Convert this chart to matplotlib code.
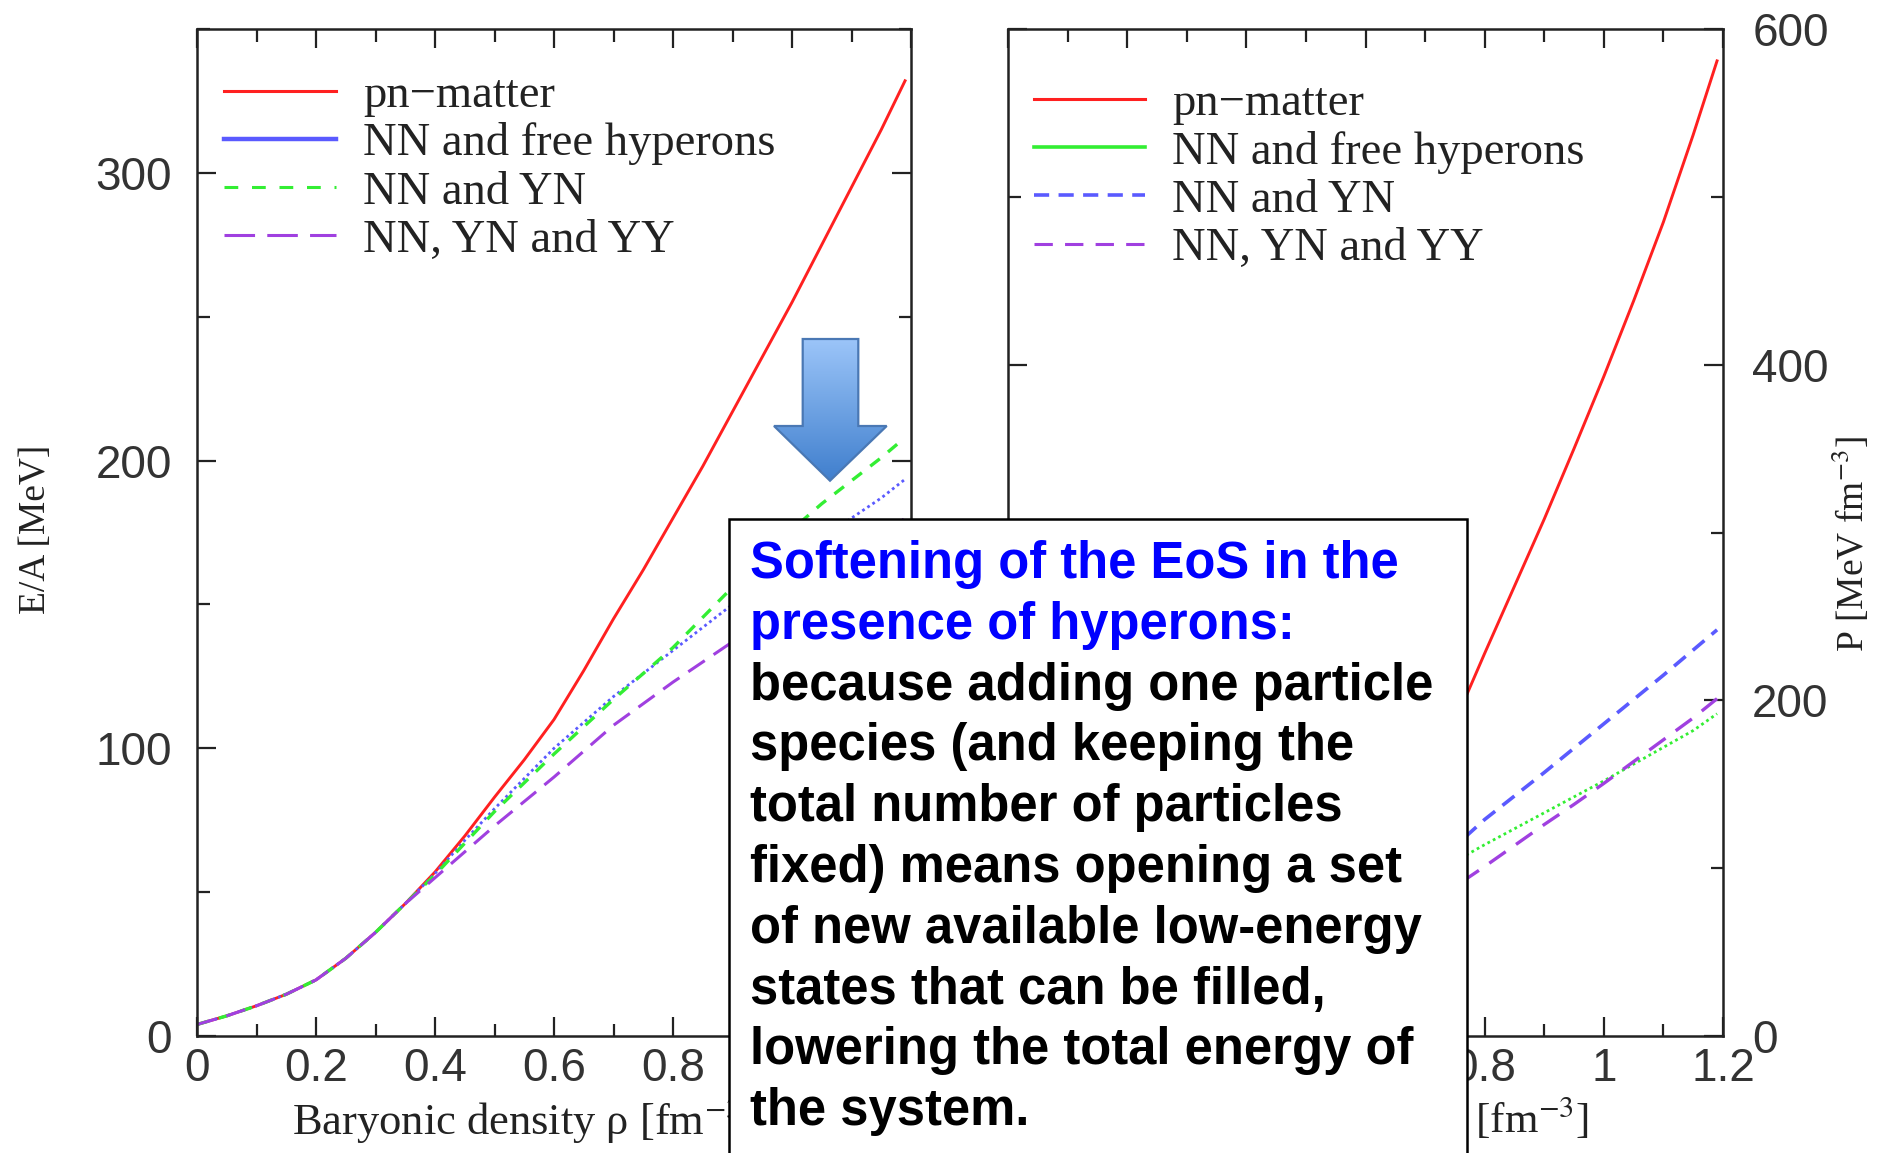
import numpy as np
import matplotlib
matplotlib.use("Agg")
import matplotlib.pyplot as plt
from matplotlib.lines import Line2D
from matplotlib.patches import Rectangle, Polygon
from matplotlib.ticker import MultipleLocator

plt.rcParams['mathtext.fontset'] = 'stix'

# energy per baryon, E/A [MeV]
rho_ea = [0, 0.05, 0.1, 0.15, 0.2, 0.25, 0.3, 0.35, 0.4, 0.45, 0.5, 0.55, 0.6, 0.65,
          0.7, 0.75, 0.8, 0.85, 0.9, 0.95, 1.0, 1.05, 1.1, 1.15, 1.19]
ea_pn = [4, 7, 10.5, 14.5, 19.5, 27, 36, 46, 57, 69.5, 83, 96, 110, 127,
         145, 162, 180, 198, 217, 236, 255, 275, 295, 315, 332]
ea_free = [4, 7, 10.5, 14.5, 19.5, 27, 36, 46, 56.5, 68, 79, 89.5, 100, 109,
           118, 126, 134, 142, 150, 157.5, 165, 172.5, 180, 187, 193.5]
ea_yn = [4, 7, 10.5, 14.5, 19.5, 27, 36, 46, 56, 67, 78, 88, 98, 107.5,
         117, 126, 135, 145.5, 156, 166, 176, 185, 193, 201, 208]
ea_yy = [4, 7, 10.5, 14.5, 19.5, 27, 36, 46, 55, 64, 73, 81.5, 90, 99,
         108, 115.5, 123, 130, 137, 144.5, 152, 159, 166, 173, 180]

# pressure, P [MeV fm^-3]
rho_p = [0, 0.1, 0.2, 0.3, 0.4, 0.5, 0.6, 0.7, 0.75, 0.8, 0.85, 0.9, 0.95,
         1.0, 1.05, 1.1, 1.15, 1.19]
p_pn = [0, 1, 4, 12, 28, 55, 95, 150, 187, 228, 268, 308, 350,
        393, 438, 485, 537, 581]
p_free = [0, 0.5, 3, 10, 22, 40, 62, 94, 104, 114, 123.5, 133, 142.5,
          152, 162, 172, 182, 192]
p_yn = [0, 0.5, 3, 10, 23, 42, 68, 97, 113, 129, 143, 157, 171.5,
        186, 200.5, 215, 230, 242]
p_yy = [0, 0.5, 3, 9, 20, 36, 56, 78, 89, 101, 113.5, 126, 138,
        150.5, 163.5, 176.5, 189.5, 201]

labels = ["pn\u2212matter", "NN and free hyperons", "NN and YN", "NN, YN and YY"]
xticks = [0, 0.2, 0.4, 0.6, 0.8, 1.0, 1.2]
# tick labels that sit under the text box are left blank
xtick_left = ['0', '0.2', '0.4', '0.6', '0.8', '', '']
xtick_right = ['', '', '', '', '0.8', '1', '1.2']

RED = '#ff2020'
BLUE = '#5a5aff'
GREEN = '#33ee33'
PURPLE = '#a040e0'

W, H = 1897, 1153
fig = plt.figure(figsize=(W / 100, H / 100), dpi=100)

SANS = 'Liberation Sans'
SERIF = 'Liberation Serif'
TICKCOL = '#333333'
LABCOL = '#222222'


def style_axes(ax, ticklabels):
    for s in ax.spines.values():
        s.set_linewidth(1.8)
        s.set_color('#222222')
    ax.set_xlim(0, 1.2)
    ax.set_xticks(xticks)
    ax.set_xticklabels(ticklabels)
    ax.xaxis.set_minor_locator(MultipleLocator(0.1))
    ax.tick_params(which='both', direction='in', top=True, right=True,
                   width=1.6, color='#222222')
    ax.tick_params(which='major', length=14)
    ax.tick_params(which='minor', length=9)
    ax.tick_params(axis='x', labelsize=33, pad=8, labelcolor=TICKCOL)


# left panel: E/A
ax1 = fig.add_axes([197 / W, 1 - 1036 / H, 714 / W, 1007 / H])
ax1.plot(rho_ea, ea_pn, color=RED, lw=2.1)
ax1.plot(rho_ea, ea_free, color=BLUE, lw=2.0, ls=(0, (1, 1.2)))
ax1.plot(rho_ea, ea_yn, color=GREEN, lw=2.4, ls=(0, (3.6, 3.2)))
ax1.plot(rho_ea, ea_yy, color=PURPLE, lw=2.2, ls=(0, (6.5, 3.5)))
ax1.set_ylim(0, 350)
ax1.yaxis.set_major_locator(MultipleLocator(100))
ax1.yaxis.set_minor_locator(MultipleLocator(50))
style_axes(ax1, xtick_left)
ax1.tick_params(axis='y', labelsize=33, pad=18, labelcolor=TICKCOL)
for t in ax1.get_xticklabels() + ax1.get_yticklabels():
    t.set_fontfamily(SANS)
ax1.text(-0.2255, 0.5035, 'E/A [MeV]', rotation=90, ha='center', va='center',
         transform=ax1.transAxes, fontsize=27, family=SERIF, color=LABCOL)
ax1.text(0.459, -0.083, 'Baryonic density \u03c1 [fm$^{-3}$]', ha='center', va='center',
         transform=ax1.transAxes, fontsize=32, family=SERIF, color=LABCOL)

h_left = [Line2D([], [], color=RED, lw=2.2),
          Line2D([], [], color=BLUE, lw=3.2),
          Line2D([], [], color=GREEN, lw=2.2, ls=(0, (4.5, 4.5))),
          Line2D([], [], color=PURPLE, lw=2.2, ls=(0, (10, 4)))]
leg1 = ax1.legend(h_left, labels, loc='upper left', bbox_to_anchor=(0.038, 0.955),
                  frameon=False, borderpad=0, borderaxespad=0, labelspacing=0.12,
                  handlelength=2.4, handletextpad=0.58,
                  prop={'family': SERIF, 'size': 33.5})
for t in leg1.get_texts():
    t.set_color(LABCOL)

# right panel: pressure
ax2 = fig.add_axes([1008 / W, 1 - 1036 / H, 715 / W, 1007 / H])
ax2.plot(rho_p, p_pn, color=RED, lw=2.1)
ax2.plot(rho_p, p_free, color=GREEN, lw=2.0, ls=(0, (1, 1.2)))
ax2.plot(rho_p, p_yn, color=BLUE, lw=2.6, ls=(0, (4.2, 2.6)))
ax2.plot(rho_p, p_yy, color=PURPLE, lw=2.4, ls=(0, (6, 3.8)))
ax2.set_ylim(0, 600)
ax2.yaxis.set_major_locator(MultipleLocator(200))
ax2.yaxis.set_minor_locator(MultipleLocator(100))
style_axes(ax2, xtick_right)
ax2.tick_params(axis='y', labelleft=False, labelright=True, labelsize=33, pad=21,
                labelcolor=TICKCOL)
for t in ax2.get_xticklabels() + ax2.get_yticklabels():
    t.set_fontfamily(SANS)
ax2.text(1.179, 0.4886, r'P [MeV fm$^{-3}$]', rotation=90, ha='center', va='center',
         transform=ax2.transAxes, fontsize=27, family=SERIF, color=LABCOL)
ax2.text(0.498, -0.083, 'Baryonic density \u03c1 [fm$^{-3}$]', ha='center', va='center',
         transform=ax2.transAxes, fontsize=31, family=SERIF, color=LABCOL)

h_right = [Line2D([], [], color=RED, lw=2.2),
           Line2D([], [], color=GREEN, lw=2.6),
           Line2D([], [], color=BLUE, lw=2.6, ls=(0, (4.2, 2.6))),
           Line2D([], [], color=PURPLE, lw=2.2, ls=(0, (6, 4)))]
leg2 = ax2.legend(h_right, labels, loc='upper left', bbox_to_anchor=(0.036, 0.947),
                  frameon=False, borderpad=0, borderaxespad=0, labelspacing=0.12,
                  handlelength=2.4, handletextpad=0.58,
                  prop={'family': SERIF, 'size': 33.5})
for t in leg2.get_texts():
    t.set_color(LABCOL)

# downward arrow with a blue gradient
axa = fig.add_axes([770 / W, 1 - 485 / H, 120 / W, 150 / H], zorder=5)
axa.set_xlim(770, 890)
axa.set_ylim(485, 335)
axa.axis('off')
arrow_pts = [(802.7, 339), (858.3, 339), (858.3, 426), (886.7, 426),
             (830, 480.7), (774, 426), (802.7, 426)]
arrow = Polygon(arrow_pts, closed=True, facecolor='none', edgecolor='#4a78b4', lw=1.6)
axa.add_patch(arrow)
top_c = np.array([0.62, 0.78, 0.98])
bot_c = np.array([0.24, 0.49, 0.80])
tgrad = np.linspace(0, 1, 200)[:, None, None]
grad = top_c * (1 - tgrad) + bot_c * tgrad
im = axa.imshow(grad, extent=(770, 890, 485, 335), aspect='auto', zorder=1)
im.set_clip_path(arrow)
arrow.set_zorder(2)

# explanatory box
fig.add_artist(Rectangle((728.5 / W, -0.02), 738.5 / W, 1 - 519 / H + 0.02,
                         transform=fig.transFigure, facecolor='white',
                         edgecolor='black', lw=1.8, zorder=10))
box_lines = [("Softening of the EoS in the", '#0000ff'),
             ("presence of hyperons:", '#0000ff'),
             ("because adding one particle", 'black'),
             ("species (and keeping the", 'black'),
             ("total number of particles", 'black'),
             ("fixed) means opening a set", 'black'),
             ("of new available low-energy", 'black'),
             ("states that can be filled,", 'black'),
             ("lowering the total energy of", 'black'),
             ("the system.", 'black')]
for i, (line, col) in enumerate(box_lines):
    yb = 578 + i * 60.8
    fig.text(750 / W, 1 - yb / H, line, color=col, fontsize=36.5, fontweight='bold',
             family=SANS, ha='left', va='baseline', zorder=11)

fig.savefig('out.png', dpi=100)
